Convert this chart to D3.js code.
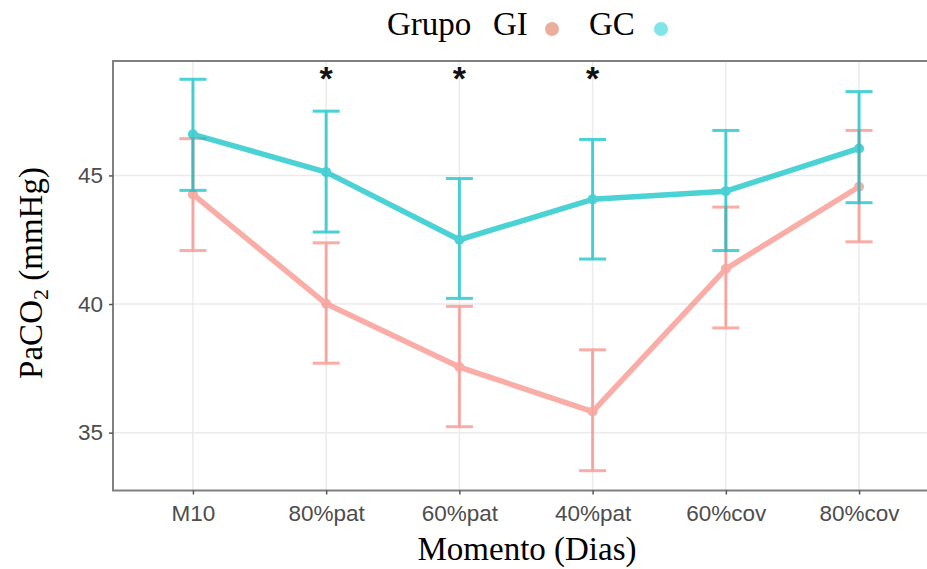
<!DOCTYPE html>
<html>
<head>
<meta charset="utf-8">
<title>PaCO2 por momento</title>
<script src="https://d3js.org/d3.v7.min.js"></script>
<style>
  body { margin: 0; background: #fff; }
  .tick-label { font-family: "Liberation Sans", Arial, sans-serif; fill: #4d4d4d; }
  .serif { font-family: "Liberation Serif", "Times New Roman", serif; fill: #000; }
</style>
</head>
<body>
<div id="chart"></div>
<script>
// data
const momentos = ["M10", "80%pat", "60%pat", "40%pat", "60%cov", "80%cov"];
const yTicks = [35, 40, 45];

const giMean = [44.26, 40.01, 37.55, 35.82, 41.37, 44.56];
const giLow  = [42.08, 37.70, 35.23, 33.52, 39.07, 42.42];
const giHigh = [46.43, 42.38, 39.91, 38.22, 43.77, 46.75];

const gcMean = [46.60, 45.13, 42.50, 44.07, 44.39, 46.05];
const gcLow  = [44.42, 42.80, 40.22, 41.75, 42.08, 43.94];
const gcHigh = [48.74, 47.50, 44.88, 46.40, 46.75, 48.26];

const signif = ["80%pat", "60%pat", "40%pat"];

const W = 927, H = 569;
const panel = { left: 113, right: 939, top: 61, bottom: 490.5 };

const groups = [
  { name: "GI", color: "#F8766D", mean: giMean, low: giLow, high: giHigh },
  { name: "GC", color: "#00BFC4", mean: gcMean, low: gcLow, high: gcHigh }
];

const svg = d3.select("#chart").append("svg")
  .attr("width", W).attr("height", H);

const x = d3.scalePoint()
  .domain(momentos)
  .range([panel.left, panel.right])
  .padding(0.6);

const y = d3.scaleLinear()
  .domain([32.75, 49.45])
  .range([panel.bottom, panel.top]);

// grid
svg.append("g").selectAll("line.gx")
  .data(momentos).enter().append("line")
  .attr("x1", d => x(d)).attr("x2", d => x(d))
  .attr("y1", panel.top).attr("y2", panel.bottom)
  .attr("stroke", "#ebebeb").attr("stroke-width", 1.5);

svg.append("g").selectAll("line.gy")
  .data(yTicks).enter().append("line")
  .attr("x1", panel.left).attr("x2", panel.right)
  .attr("y1", d => y(d)).attr("y2", d => y(d))
  .attr("stroke", "#ebebeb").attr("stroke-width", 1.5);

// series
const line = d3.line().x((d, i) => x(momentos[i])).y(d => y(d));

groups.forEach(g => {
  const gg = svg.append("g").attr("opacity", g.name === "GI" ? 0.6 : 0.7);
  gg.append("path")
    .datum(g.mean)
    .attr("d", line)
    .attr("fill", "none")
    .attr("stroke", g.color)
    .attr("stroke-width", 5.5)
    .attr("stroke-linejoin", "round");

  gg.selectAll("circle")
    .data(g.mean).enter().append("circle")
    .attr("cx", (d, i) => x(momentos[i]))
    .attr("cy", d => y(d))
    .attr("r", 5)
    .attr("fill", g.color);

  const eb = gg.selectAll("g.eb")
    .data(momentos).enter().append("g");
  eb.append("line")
    .attr("x1", d => x(d)).attr("x2", d => x(d))
    .attr("y1", (d, i) => y(g.low[i])).attr("y2", (d, i) => y(g.high[i]))
    .attr("stroke", g.color).attr("stroke-width", 3);
  eb.append("line")
    .attr("x1", d => x(d) - 13.5).attr("x2", d => x(d) + 13.5)
    .attr("y1", (d, i) => y(g.low[i])).attr("y2", (d, i) => y(g.low[i]))
    .attr("stroke", g.color).attr("stroke-width", 3);
  eb.append("line")
    .attr("x1", d => x(d) - 13.5).attr("x2", d => x(d) + 13.5)
    .attr("y1", (d, i) => y(g.high[i])).attr("y2", (d, i) => y(g.high[i]))
    .attr("stroke", g.color).attr("stroke-width", 3);
});

// significance stars
svg.append("g").selectAll("text")
  .data(signif).enter().append("text")
  .attr("x", d => x(d))
  .attr("y", 90)
  .attr("text-anchor", "middle")
  .attr("font-family", "Liberation Sans, Arial, sans-serif")
  .attr("font-size", 34)
  .attr("font-weight", "bold")
  .attr("fill", "#111")
  .text("*");

// panel border
svg.append("rect")
  .attr("x", panel.left).attr("y", panel.top)
  .attr("width", panel.right - panel.left)
  .attr("height", panel.bottom - panel.top)
  .attr("fill", "none")
  .attr("stroke", "#808080")
  .attr("stroke-width", 2);

// axes
const xAxis = svg.append("g")
  .attr("transform", `translate(0,${panel.bottom})`)
  .call(d3.axisBottom(x).tickSize(4).tickPadding(7));
const yAxis = svg.append("g")
  .attr("transform", `translate(${panel.left},0)`)
  .call(d3.axisLeft(y).tickValues(yTicks).tickSize(4).tickPadding(6));

[xAxis, yAxis].forEach(a => {
  a.select(".domain").remove();
  a.selectAll(".tick line").attr("stroke", "#555").attr("stroke-width", 1.5);
  a.selectAll(".tick text")
    .attr("class", "tick-label")
    .attr("font-size", 22.5)
    .attr("fill", "#4d4d4d");
});
xAxis.selectAll(".tick text").attr("dy", "0.85em");

// axis titles
svg.append("text")
  .attr("class", "serif")
  .attr("x", 527).attr("y", 560)
  .attr("text-anchor", "middle")
  .attr("font-size", 33)
  .text("Momento (Dias)");

const yt = svg.append("text")
  .attr("class", "serif")
  .attr("transform", "translate(42,273) rotate(-90)")
  .attr("text-anchor", "middle")
  .attr("font-size", 33);
yt.append("tspan").text("PaCO");
yt.append("tspan").attr("font-size", 22).attr("dy", 6).text("2");
yt.append("tspan").attr("dy", -6).text(" (mmHg)");

// legend
const leg = svg.append("g");
leg.append("text").attr("class", "serif")
  .attr("x", 387).attr("y", 35).attr("font-size", 33).text("Grupo");
const legItems = [
  { label: "GI", tx: 493, cx: 552, fill: "#ebae9c" },
  { label: "GC", tx: 589, cx: 661, fill: "#7fe5e8" }
];
legItems.forEach(it => {
  leg.append("text").attr("class", "serif")
    .attr("x", it.tx).attr("y", 35).attr("font-size", 33).text(it.label);
  leg.append("circle")
    .attr("cx", it.cx).attr("cy", 29).attr("r", 7)
    .attr("fill", it.fill);
});
</script>
</body>
</html>
